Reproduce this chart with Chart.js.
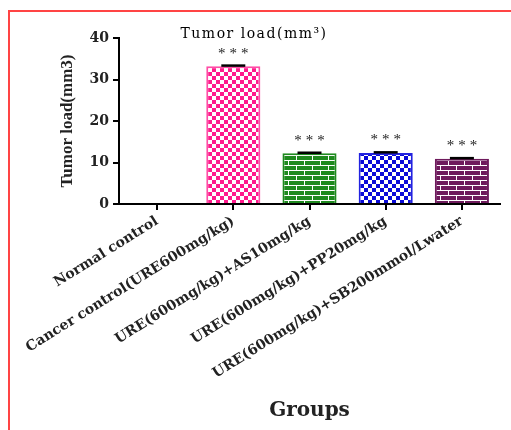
<!DOCTYPE html>
<html>
<head>
<meta charset="utf-8">
<script src="https://cdn.jsdelivr.net/npm/chart.js@4/dist/chart.umd.min.js"></script>
<style>
  body { margin: 0; background: #fff; }
  #wrap { position: relative; width: 511px; height: 430px; overflow: hidden; }
  #frame { position: absolute; left: 8px; top: 10px; right: -5px; bottom: -5px;
           border-top: 2px solid #ff4444; border-left: 2px solid #ff4444; }
  canvas { position: absolute; left: 0; top: 0; }
</style>
</head>
<body>
<div id="wrap">
  <div id="frame"></div>
  <canvas id="chart" width="511" height="430"></canvas>
</div>
<script>
// Data dari gambar
const groups = [
  "Normal control",
  "Cancer control(URE600mg/kg)",
  "URE(600mg/kg)+AS10mg/kg",
  "URE(600mg/kg)+PP20mg/kg",
  "URE(600mg/kg)+SB200mmol/Lwater"
];
const tumorLoad = [0, 33.2, 12.2, 12.3, 10.9];
const semValues = [0, 0.15, 0.15, 0.15, 0.15];
const signif = ["", "***", "***", "***", "***"];
const yTicks = [0, 10, 20, 30, 40];

// Pola isi batang
function checker(color, size, hole) {
  const c = document.createElement("canvas");
  c.width = c.height = size * 2;
  const g = c.getContext("2d");
  g.fillStyle = color;
  g.fillRect(0, 0, size * 2, size * 2);
  g.fillStyle = "#fff";
  g.fillRect(size, 0, hole, hole);
  g.fillRect(0, size, hole, hole);
  return g.createPattern(c, "repeat");
}

function brick(color) {
  const c = document.createElement("canvas");
  c.width = 16; c.height = 10;
  const g = c.getContext("2d");
  g.fillStyle = color;
  g.fillRect(0, 0, 16, 10);
  g.fillStyle = "#fff";
  g.fillRect(0, 0, 16, 1);
  g.fillRect(0, 5, 16, 1);
  g.fillRect(0, 0, 1, 5);
  g.fillRect(8, 5, 1, 5);
  return g.createPattern(c, "repeat");
}

const fills = ["rgba(0,0,0,0)", checker("#ff1a8c", 4, 4), brick("#1f8a1f"), checker("#0a0ad8", 4, 4), brick("#6e1a5c")];
const borders = ["rgba(0,0,0,0)", "#ff4da6", "#1f8a1f", "#2222e0", "#6e1a5c"];

// Judul, tanda bintang dan error bar
const annot = {
  id: "annot",
  afterDatasetsDraw(chart) {
    const { ctx, scales: { x, y } } = chart;
    ctx.save();
    tumorLoad.forEach((v, i) => {
      if (!v) return;
      const px = x.getPixelForValue(i);
      const top = y.getPixelForValue(v + semValues[i]);
      ctx.strokeStyle = "#000";
      ctx.lineWidth = 2.5;
      ctx.beginPath();
      ctx.moveTo(px - 12, top);
      ctx.lineTo(px + 12, top);
      ctx.stroke();

      ctx.fillStyle = "#222";
      ctx.font = "15px 'Liberation Serif'";
      ctx.textAlign = "center";
      ctx.textBaseline = "middle";
      ctx.letterSpacing = "4px";
      ctx.fillText(signif[i], px + 2, top - 12);
    });

    ctx.letterSpacing = "1.5px";
    ctx.fillStyle = "#000";
    ctx.font = "14px 'DejaVu Serif'";
    ctx.textAlign = "center";
    ctx.textBaseline = "middle";
    ctx.fillText("Tumor load(mm³)", 254, 34);
    ctx.restore();
  }
};

new Chart(document.getElementById("chart"), {
  type: "bar",
  data: {
    labels: groups,
    datasets: [{
      data: tumorLoad,
      backgroundColor: fills,
      borderColor: borders,
      borderWidth: 2,
      barPercentage: 0.71,
      categoryPercentage: 1
    }]
  },
  options: {
    responsive: false,
    animation: false,
    layout: { padding: { left: 0, top: 38, right: 11, bottom: 0 } },
    plugins: { legend: { display: false }, tooltip: { enabled: false } },
    scales: {
      x: {
        offset: true,
        grid: { offset: false, drawOnChartArea: false, color: "#000", lineWidth: 2, tickLength: 6 },
        border: { color: "#000", width: 2 },
        ticks: {
          autoSkip: false,
          minRotation: 32,
          maxRotation: 32,
          color: "#222",
          font: { family: "'DejaVu Serif'", size: 14, weight: "bold" }
        },
        title: {
          display: true,
          text: "Groups",
          color: "#222",
          font: { family: "'DejaVu Serif'", size: 20, weight: "bold" },
          padding: { top: 0, bottom: 7 }
        },
        afterFit(scale) { scale.height = 226; }
      },
      y: {
        min: 0,
        max: 40,
        afterBuildTicks(scale) { scale.ticks = yTicks.map(v => ({ value: v })); },
        grid: { drawOnChartArea: false, color: "#000", lineWidth: 2, tickLength: 6 },
        border: { color: "#000", width: 2 },
        ticks: {
          color: "#222",
          padding: 4,
          font: { family: "'DejaVu Serif'", size: 14, weight: "bold" }
        },
        title: {
          display: true,
          text: "Tumor load(mm3)",
          color: "#222",
          font: { family: "'Liberation Serif'", size: 17, weight: "bold" },
          padding: { top: 57, bottom: 0 }
        },
        afterFit(scale) { scale.width = 119; }
      }
    }
  },
  plugins: [annot]
});
</script>
</body>
</html>
